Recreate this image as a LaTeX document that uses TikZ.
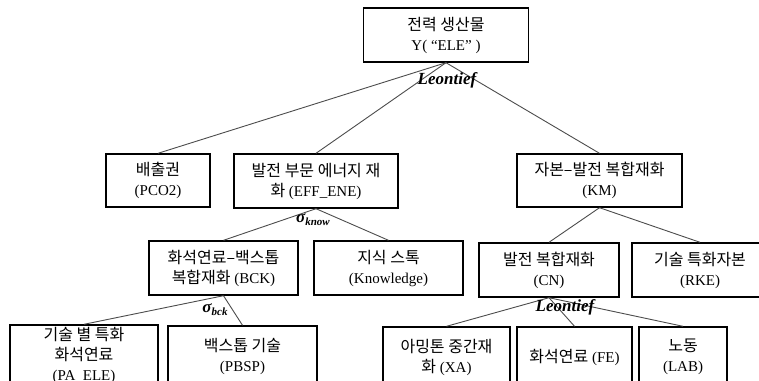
\documentclass[tikz,border=0pt]{standalone}
\usepackage{fontspec}
\setmainfont{Liberation Serif}
\newfontfamily\krfont{Noto Sans CJK KR}
\newcommand{\ko}[1]{{\krfont\fontsize{16}{20}\selectfont #1}}
\newcommand{\sub}[1]{\raisebox{-3pt}{\fontsize{11}{11}\selectfont #1}}

\begin{document}
\begin{tikzpicture}
  [x=1pt,y=-1pt,
   every node/.style={draw, line width=1.4pt, rectangle, align=center, inner sep=0pt,
     font=\fontsize{15}{20}\selectfont},
   link/.style={draw=black!70, line width=0.9pt},
   lawtext/.style={draw=none, font=\fontsize{17}{18}\selectfont\bfseries\itshape}]
  \clip (0,0) rectangle (759,380);
  \useasboundingbox (0,0) rectangle (759,380);

  \node[minimum width=165, minimum height=54] (ele)  at (446,35)    {\ko{전력 생산물}\\Y( “ELE” )};
  \node[minimum width=104, minimum height=53] (pco)  at (158,180.5) {\ko{배출권}\\(PCO2)};
  \node[minimum width=164, minimum height=54] (eff)  at (316,181)   {\ko{발전 부문 에너지 재}\\\ko{화} (EFF\_ENE)};
  \node[minimum width=165, minimum height=53] (km)   at (599.5,180.5) {\ko{자본–발전 복합재화}\\(KM)};
  \node[minimum width=149, minimum height=54] (bck)  at (223.5,268) {\ko{화석연료–백스톱}\\\ko{복합재화} (BCK)};
  \node[minimum width=149, minimum height=54] (know) at (388.5,268) {\ko{지식 스톡}\\(Knowledge)};
  \node[minimum width=140, minimum height=54] (cn)   at (549,270)   {\ko{발전 복합재화}\\(CN)};
  \node[minimum width=136, minimum height=54] (rke)  at (700,270)   {\ko{기술 특화자본}\\(RKE)};
  \node[minimum width=148, minimum height=60] (pa)   at (84,355)    {\ko{기술 별 특화}\\\ko{화석연료}\\(PA\_ELE)};
  \node[minimum width=149, minimum height=60] (pbsp) at (242.5,356) {\ko{백스톱 기술}\\(PBSP)};
  \node[minimum width=127, minimum height=60] (xa)   at (446.5,357) {\ko{아밍톤 중간재}\\\ko{화} (XA)};
  \node[minimum width=115, minimum height=60] (fe)   at (574.5,357) {\ko{화석연료} (FE)};
  \node[minimum width=88,  minimum height=60] (lab)  at (683,357)   {\ko{노동}\\(LAB)};

  \foreach \from/\to in {ele/pco,ele/eff,ele/km,eff/bck,eff/know,km/cn,km/rke,
                         bck/pa,bck/pbsp,cn/xa,cn/fe,cn/lab}
    \draw[link] (\from.south) -- (\to.north);

  \node[lawtext] (leo1)  at (447,80)  {Leontief};
  \node[lawtext] (sknow) at (313,220) {σ\sub{know}};
  \node[lawtext] (sbck)  at (215,310) {σ\sub{bck}};
  \node[lawtext] (leo2)  at (565,307) {Leontief};

\end{tikzpicture}
\end{document}
